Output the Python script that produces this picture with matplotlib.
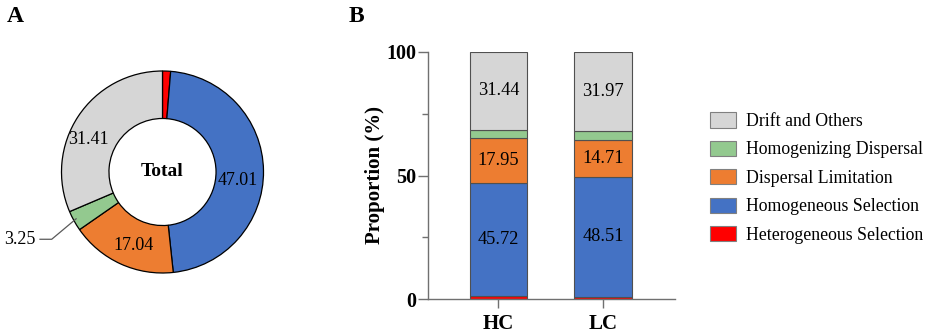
import numpy as np
import matplotlib
matplotlib.use("Agg")
import matplotlib.pyplot as plt

plt.rcParams['font.family'] = ['Liberation Serif', 'DejaVu Serif']

# ---- data ----
categories = ['Heterogeneous Selection', 'Homogeneous Selection', 'Dispersal Limitation',
              'Homogenizing Dispersal', 'Drift and Others']
colors = ['#FF0000', '#4472C4', '#ED7D31', '#93C98F', '#D6D6D6']

total = [1.29, 47.01, 17.04, 3.25, 31.41]
total_labels = ['', '47.01', '17.04', '', '31.41']

groups = ['HC', 'LC']
hetero_sel = [1.30, 1.00]
homo_sel = [45.72, 48.51]
disp_lim = [17.95, 14.71]
homo_disp = [3.59, 3.81]
drift = [31.44, 31.97]
bar_series = [hetero_sel, homo_sel, disp_lim, homo_disp, drift]

W, H = 927, 335
fig = plt.figure(figsize=(W / 100, H / 100), dpi=100)

# ---- A: donut ----
R = 101.0              # outer radius in px
cx, cy = 162.5, 172.0  # centre in px from top-left
half = 1.6
ax1 = fig.add_axes([(cx - half * R) / W, (H - cy - half * R) / H, 2 * half * R / W, 2 * half * R / H])
wedges, _ = ax1.pie(total, colors=colors, startangle=90, counterclock=False, radius=1.0,
                    wedgeprops=dict(width=0.47, edgecolor='black', linewidth=0.9))
ax1.set_xlim(-half, half)
ax1.set_ylim(-half, half)
ax1.set_aspect('equal')
ax1.axis('off')

nudge = [0, -7, 3, 0, 10]
rlab = [0, 0.75, 0.78, 0, 0.80]
for w, lab, dn, rr in zip(wedges, total_labels, nudge, rlab):
    if not lab:
        continue
    ang = np.deg2rad((w.theta1 + w.theta2) / 2 + dn)
    ax1.text(rr * np.cos(ang), rr * np.sin(ang), lab, ha='center', va='center', fontsize=13)

# small slice label with leader line
w = wedges[3]
ang = np.deg2rad((w.theta1 + w.theta2) / 2)
x0, y0 = np.cos(ang), np.sin(ang)
ax1.plot([x0 + 0.02, -1.097, -1.213], [y0 + 0.02, -0.666, -0.666], color='#595959', lw=0.9)
ax1.text(-1.26, -0.666, '3.25', ha='right', va='center', fontsize=13)
ax1.text(0, 0, 'Total', ha='center', va='center', fontsize=14, fontweight='bold')

fig.text(7 / W, 1 - 17 / H, 'A', fontsize=17, fontweight='bold', ha='left', va='center')
fig.text(349 / W, 1 - 17 / H, 'B', fontsize=17, fontweight='bold', ha='left', va='center')

# ---- B: stacked bars ----
left, right = 427.7, 675.0
top, bottom = 51.7, 299.3
ax2 = fig.add_axes([left / W, (H - bottom) / H, (right - left) / W, (bottom - top) / H])
x = np.arange(len(groups))
base = np.zeros(len(groups))
handles = []
for vals, col, name in zip(bar_series, colors, categories):
    b = ax2.bar(x, vals, 0.55, bottom=base, color=col, edgecolor='#505050', linewidth=0.8, label=name)
    handles.append(b)
    if name not in ('Heterogeneous Selection', 'Homogenizing Dispersal'):
        for xi, v, b0 in zip(x, vals, base):
            ax2.text(xi, b0 + v / 2, f'{v:.2f}', ha='center', va='center', fontsize=13.2)
    base = base + np.array(vals)

ax2.set_xlim(-0.676, 1.686)
ax2.set_ylim(0, 100)
ax2.set_xticks(x)
ax2.set_xticklabels(groups, fontsize=15, fontweight='bold')
ax2.set_yticks([0, 50, 100])
ax2.set_yticklabels(['0', '50', '100'], fontsize=14.5, fontweight='bold')
ax2.set_yticks([25, 75], minor=True)
for s in ('top', 'right'):
    ax2.spines[s].set_visible(False)
for s in ('left', 'bottom'):
    ax2.spines[s].set_color('#707070')
    ax2.spines[s].set_linewidth(1.0)
ax2.tick_params(axis='y', which='major', length=7.5, width=1.0, color='#707070', pad=1)
ax2.tick_params(axis='y', which='minor', length=4.5, width=1.0, color='#707070')
ax2.tick_params(axis='x', length=6.5, width=1.0, color='#707070', pad=4)
ax2.set_ylabel('Proportion (%)', fontsize=15, fontweight='bold', labelpad=1)

leg = fig.legend(handles=handles[::-1], labels=categories[::-1], loc='center left',
                 bbox_to_anchor=(710 / W, 1 - 178 / H), frameon=False, fontsize=12.8,
                 handlelength=1.45, handleheight=0.95, handletextpad=0.55,
                 labelspacing=0.6, borderpad=0, borderaxespad=0)
for p in leg.get_patches():
    p.set_edgecolor('#808080')

fig.savefig('out.png', dpi=100)
